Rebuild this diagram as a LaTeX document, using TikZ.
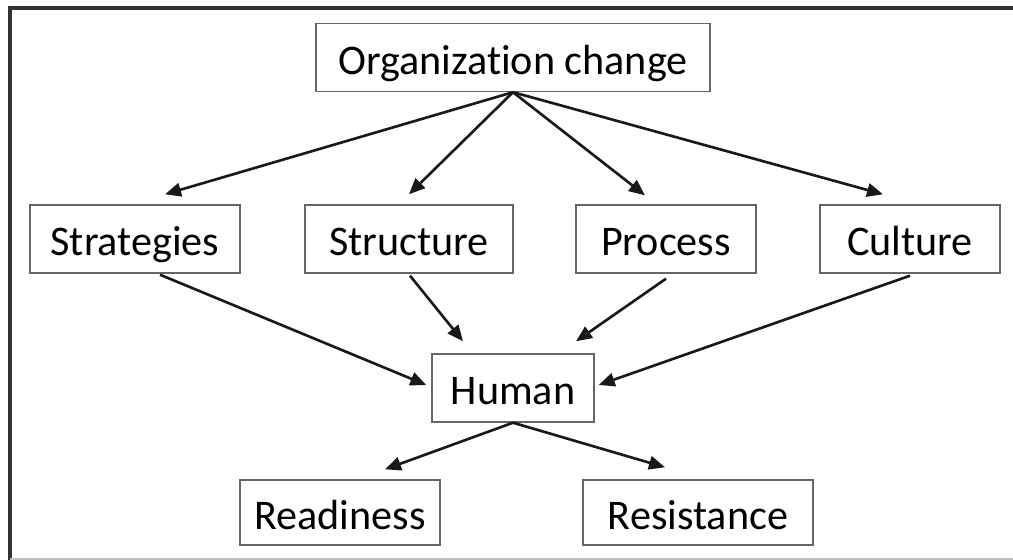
\documentclass[tikz,border=0pt]{standalone}
\usepackage{fontspec}
\setmainfont{Carlito}[Ligatures=NoCommon]
\usetikzlibrary{arrows.meta,calc}

\tikzset{
  box/.style={draw=black!60, line width=0.8pt, inner sep=0pt,
    minimum height=68*0.02cm, text height=23pt, text depth=4pt,
    font=\fontsize{24}{28}\selectfont},
  arr/.style={-{Triangle[length=0.32cm,width=0.27cm]}, line width=1.5pt, black!90},
}

\begin{document}
\begin{tikzpicture}[x=0.02cm, y=-0.02cm]
        \useasboundingbox (0,0) rectangle (1013,560);
        % Rahmen
        \draw[black!80, line width=1.8pt] (1013,8) -- (10,8) -- (10,560);
        \draw[black!25, line width=1pt] (10,559) -- (1013,559);
        % Kaesten
        \node[box, minimum width=394*0.02cm] (org) at (513,57.5) {Organization change};
        \node[box, minimum width=210*0.02cm] (strat) at (135,239) {Strategies};
        \node[box, minimum width=208*0.02cm] (struct) at (409,239) {Structure};
        \node[box, minimum width=180*0.02cm] (proc) at (666,239) {Process};
        \node[box, minimum width=180*0.02cm] (cult) at (910,239) {Culture};
        \node[box, minimum width=162*0.02cm] (human) at (513,388) {Human};
        \node[box, minimum width=200*0.02cm, minimum height=65*0.02cm] (ready) at (340,512.5) {Readiness};
        \node[box, minimum width=230*0.02cm, minimum height=65*0.02cm] (resist) at (698,512.5) {Resistance};
        % Pfeile von oben
        \draw[arr] (org.south) -- ([shift={(30,-10)}]strat.north);
        \draw[arr] (org.south) -- ([shift={(0,-10)}]struct.north);
        \draw[arr] (org.south) -- ([shift={(-21,-9)}]proc.north);
        \draw[arr] (org.south) -- ([shift={(-27,-10)}]cult.north);
        % Pfeile zum Menschen
        \draw[arr] ([shift={(25,1)}]strat.south) -- ([shift={(-5,-3)}]human.west);
        \draw[arr] ([shift={(1,2)}]struct.south) -- ([shift={(-50,-12)}]human.north);
        \draw[arr] ([shift={(0,5)}]proc.south) -- ([shift={(63,-12)}]human.north);
        \draw[arr] ([shift={(0,2)}]cult.south) -- ([shift={(4,-3)}]human.east);
        % Pfeile nach unten
        \draw[arr] (human.south) -- ([shift={(45,-10)}]ready.north);
        \draw[arr] (human.south) -- ([shift={(-33,-12)}]resist.north);
\end{tikzpicture}
\end{document}
